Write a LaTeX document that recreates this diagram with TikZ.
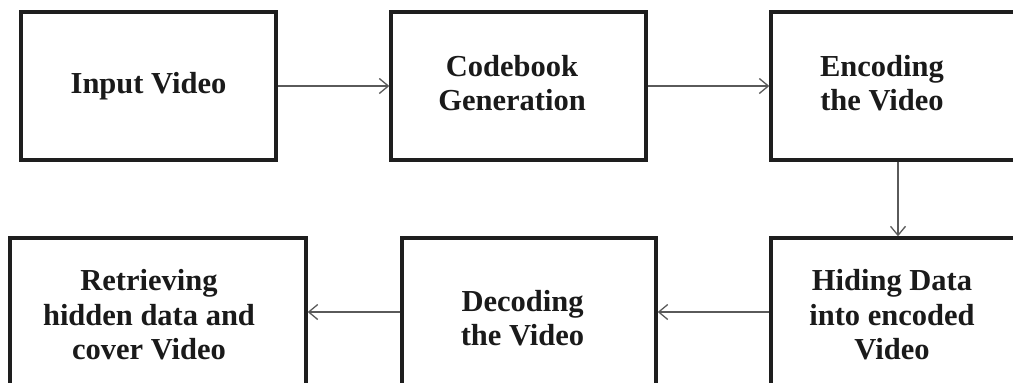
\documentclass[tikz,border=0pt]{standalone}
\usepackage{fontspec}
\setmainfont{Liberation Serif}
\usetikzlibrary{arrows.meta}
\definecolor{boxline}{HTML}{1E1E1E}
\definecolor{flowline}{HTML}{5A5A5A}
\definecolor{labeltext}{HTML}{1A1A1A}
\begin{document}
\begin{tikzpicture}[x=1pt,y=-1pt,
  stage/.style={draw=boxline, line width=3.4pt, fill=white, rectangle,
    minimum height=148pt, inner sep=0pt},
  caption/.style={text=labeltext, align=center, inner sep=0pt,
    font=\fontsize{30.5}{34.5}\selectfont\bfseries},
  flow/.style={draw=flowline, line width=1.6pt,
    -{Straight Barb[length=9pt,width=15pt,line width=1.3pt]}}]
  \clip (0,0) rectangle (1013,383);
  \fill[white] (0,0) rectangle (1013,383);

  % stage boxes
  \node[stage, minimum width=255pt] (b1) at (148.5,86) {};
  \node[stage, minimum width=255pt] (b2) at (518.5,86) {};
  \node[stage, minimum width=254pt] (b3) at (898,86) {};
  \node[stage, minimum width=296pt] (b4) at (158,312) {};
  \node[stage, minimum width=254pt] (b5) at (529,312) {};
  \node[stage, minimum width=254pt] (b6) at (898,312) {};

  % stage captions
  \node[caption] (t1) at (148.5,86) {Input Video};
  \node[caption] (t2) at (512,83) {Codebook\\Generation};
  \node[caption] (t3) at (882,83) {Encoding\\the Video};
  \node[caption] (t4) at (149,315) {Retrieving\\hidden data and\\cover Video};
  \node[caption] (t5) at (522.5,318) {Decoding\\the Video};
  \node[caption] (t6) at (892,315) {Hiding Data\\into encoded\\Video};

  % flow between stages
  \draw[flow] (b1.east) -- (b2.west);
  \draw[flow] (b2.east) -- (b3.west);
  \draw[flow] (b3.south) -- (b6.north);
  \draw[flow] (b6.west) -- (b5.east);
  \draw[flow] (b5.west) -- (b4.east);
\end{tikzpicture}
\end{document}
